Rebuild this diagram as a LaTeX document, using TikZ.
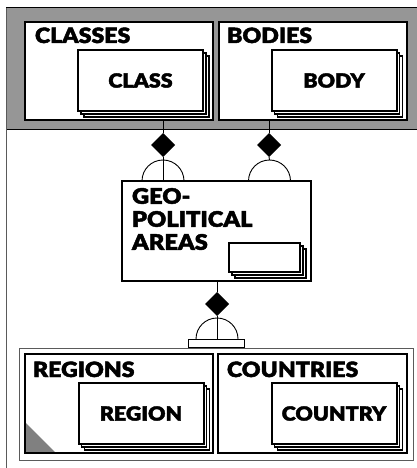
\documentclass[tikz,border=0pt]{standalone}
\usepackage{fontspec}
\newfontfamily\heavy{Lato Black}[FakeStretch=1.1, FakeBold=2]
\usetikzlibrary{shapes.geometric,shadows}
\definecolor{bandgray}{RGB}{150,150,150}
\definecolor{cornergray}{RGB}{128,128,128}
\definecolor{framegray}{RGB}{90,90,90}
\begin{document}
\begin{tikzpicture}[x=1pt,y=-1pt,
  every node/.style={inner sep=0pt, outer sep=0pt},
  setbox/.style={rectangle, draw=black, line width=2.5pt, fill=white},
  entbox/.style={rectangle, draw=black, line width=2pt, fill=white,
    copy shadow={shadow xshift=6pt, shadow yshift=-6pt, draw=black, fill=white, line width=1.6pt},
    copy shadow={shadow xshift=3pt, shadow yshift=-3pt, draw=black, fill=white, line width=1.2pt},
    font=\heavy\fontsize{19.5}{22}\selectfont},
  hdr/.style={font=\heavy\fontsize{21}{24}\selectfont, anchor=base west},
  rel/.style={diamond, fill=black, minimum width=24pt, minimum height=24pt},
  conn/.style={draw=black, line width=0.9pt},
  halfc/.style={draw=black, line width=0.9pt}
]
\useasboundingbox (0,0) rectangle (417,468);

% outer frame and the grey band at the top
\fill[bandgray] (6,8) rectangle (425,129.5);
\draw[black, line width=1pt] (425,8) -- (6,8);
\draw[black, line width=1.2pt] (6,129.5) -- (425,129.5);
\draw[framegray, line width=1pt] (6.5,8) -- (6.5,475);

% upper sets
\node[setbox, minimum width=188pt, minimum height=98pt] (classes) at (119,71) {};
\node[setbox, minimum width=188pt, minimum height=98pt] (bodies) at (313,71) {};
\node[hdr] (classesT) at (35,43) {CLASSES};
\node[hdr] (bodiesT) at (227,43) {BODIES};
\node[entbox, minimum width=125pt, minimum height=61pt] (class) at (140.5,80.5) {CLASS};
\node[entbox, minimum width=125pt, minimum height=61pt] (body) at (334,80.5) {BODY};

% geo-political areas
\node[setbox, minimum width=189pt, minimum height=100pt] (geo) at (216.5,231) {};
\node[font=\heavy\fontsize{21.5}{23}\selectfont, align=left, anchor=north west] (geoT) at (132,188)
  {GEO-\\POLITICAL\\AREAS};
\node[entbox, minimum width=71pt, minimum height=29pt] (geoE) at (264.5,257.5) {};

% relationship markers above the geo box
\node[rel] (d1) at (163,145) {};
\node[rel] (d2) at (269,145) {};
\coordinate (a1) at (163,181);
\coordinate (a2) at (269.5,181);
\draw[conn] (d1.north |- classes.south) -- (d1.north);
\draw[conn] (d2.north |- bodies.south) -- (d2.north);
\draw[halfc] ([xshift=-21pt]a1) arc[start angle=180, end angle=0, radius=21pt];
\draw[halfc] ([xshift=-21pt]a2) arc[start angle=180, end angle=0, radius=21pt];
\draw[conn] (d1.south) -- (a1);
\draw[conn] (d2.south) -- ([yshift=21pt]a2);

% lower group
\node[rectangle, draw=framegray, line width=1pt, fill=white, minimum width=394pt, minimum height=112pt] (grp) at (216,404) {};
\node[setbox, minimum width=188pt, minimum height=99pt,
  path picture={\fill[cornergray] (path picture bounding box.south west) -- ++(0,31pt) -- ++(31pt,-31pt) -- cycle;}]
  (regions) at (119,403.5) {};
\node[setbox, minimum width=189pt, minimum height=99pt] (countries) at (312.5,403.5) {};
\node[hdr] (regionsT) at (33,377) {REGIONS};
\node[hdr] (countriesT) at (227,377) {COUNTRIES};
\node[entbox, minimum width=125pt, minimum height=61pt] (region) at (141,413.5) {REGION};
\node[entbox, minimum width=125pt, minimum height=61pt] (country) at (334,413.5) {COUNTRY};

% relationship marker below the geo box
\node[rel] (d3) at (217,304) {};
\coordinate (a3) at (217,339);
\node[rectangle, draw=black, line width=0.9pt, fill=white, minimum width=56pt, minimum height=8pt] (base3) at (216,343) {};
\draw[conn] (d3.north |- geo.south) -- (d3.north);
\draw[halfc] ([xshift=-21pt]a3) arc[start angle=180, end angle=0, radius=21pt];
\draw[conn] (d3.south) -- (a3);
\end{tikzpicture}
\end{document}
